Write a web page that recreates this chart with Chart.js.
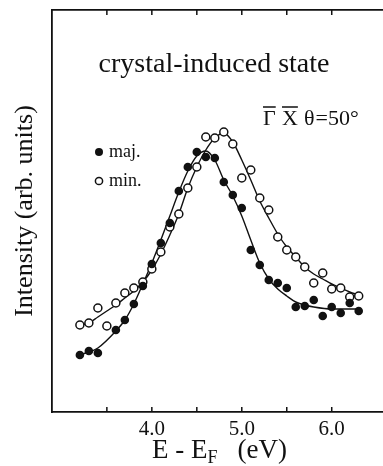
<!DOCTYPE html>
<html>
<head>
<meta charset="utf-8">
<title>crystal-induced state</title>
<script src="https://cdn.jsdelivr.net/npm/chart.js@4.4.1/dist/chart.umd.min.js"></script>
<style>
  html, body { margin: 0; padding: 0; background: #fff; }
  canvas { display: block; }
</style>
</head>
<body>
<canvas id="spectrum" width="383" height="466"></canvas>
<script>
// measured points (E - E_F in eV, intensity in arb. units)
const majEnergy = [3.2, 3.3, 3.4, 3.6, 3.7, 3.8, 3.9, 4.0, 4.1, 4.2, 4.3, 4.4, 4.5, 4.6, 4.7, 4.8,
  4.9, 5.0, 5.1, 5.2, 5.3, 5.4, 5.5, 5.6, 5.7, 5.8, 5.9, 6.0, 6.1, 6.2, 6.3];
const majIntensity = [57, 61, 59, 82, 92, 108, 126, 148, 169, 189, 221, 245, 260, 255, 254, 230,
  217, 204, 162, 147, 132, 129, 124, 105, 106, 112, 96, 105, 99, 109, 101];

const minEnergy = [3.2, 3.3, 3.4, 3.5, 3.6, 3.7, 3.8, 3.9, 4.0, 4.1, 4.2, 4.3, 4.4, 4.5, 4.6, 4.7,
  4.8, 4.9, 5.0, 5.1, 5.2, 5.3, 5.4, 5.5, 5.6, 5.7, 5.8, 5.9, 6.0, 6.1, 6.2, 6.3];
const minIntensity = [87, 89, 104, 86, 109, 119, 124, 130, 143, 160, 185, 198, 224, 245, 275, 274,
  280, 268, 234, 242, 214, 202, 175, 162, 155, 145, 129, 139, 123, 124, 115, 116];

// fitted curves
const majFitEnergy = [3.2, 3.4, 3.6, 3.7, 3.8, 3.9, 4.0, 4.1, 4.2, 4.3, 4.4, 4.5, 4.6, 4.7, 4.8,
  4.9, 5.0, 5.1, 5.2, 5.3, 5.4, 5.5, 5.6, 5.7, 5.8, 6.0, 6.2, 6.3];
const majFitIntensity = [57, 64, 81, 92, 108, 128, 149, 172, 196, 220, 241, 256, 261, 252, 232,
  216, 196, 172, 149, 133, 123, 116, 110, 107, 105, 103, 103, 103];

const minFitEnergy = minEnergy;
const minFitIntensity = [87, 89, 95, 101, 107, 114, 121, 130, 142, 158, 177, 198, 224, 245, 262, 274,
  279, 270, 252, 232, 211, 194, 178, 165, 155, 145, 138, 133, 128, 124, 120, 117];

const tickValues = [3.5, 4.0, 4.5, 5.0, 5.5, 6.0];
const tickLabels = ["", "4.0", "", "5.0", "", "6.0"];

const ink = "#111";
const serif = "'Liberation Serif', 'DejaVu Serif', serif";

function pairs(xs, ys) {
  return xs.map((x, i) => ({ x: x, y: ys[i] }));
}

function setTicks(scale) {
  scale.ticks = tickValues.map((v) => ({ value: v }));
}

function fitX(height) {
  return (scale) => {
    scale.height = height;
    scale.paddingLeft = 0;
    scale.paddingRight = 0;
  };
}

// inward tick marks and the text placed inside the figure
const decorations = {
  id: "decorations",
  afterDraw(chart) {
    const ctx = chart.ctx;
    const area = chart.chartArea;
    const xs = chart.scales.x;
    ctx.save();
    ctx.strokeStyle = ink;
    ctx.lineWidth = 1.5;
    tickValues.forEach((v) => {
      const px = xs.getPixelForValue(v);
      ctx.beginPath();
      ctx.moveTo(px, area.bottom);
      ctx.lineTo(px, area.bottom - 5);
      ctx.moveTo(px, area.top);
      ctx.lineTo(px, area.top + 5);
      ctx.stroke();
    });

    ctx.fillStyle = ink;
    ctx.textBaseline = "alphabetic";
    ctx.textAlign = "center";
    ctx.font = "28px " + serif;
    ctx.fillText("crystal-induced state", 214, 72);

    // Gamma-bar X-bar theta=50
    ctx.textAlign = "left";
    ctx.font = "22px " + serif;
    const gw = ctx.measureText("\u0393").width;
    const xw = ctx.measureText("X").width;
    const tw = ctx.measureText("\u03b8").width;
    ctx.fillText("\u0393", 263, 125);
    ctx.fillText("X", 282, 125);
    ctx.fillText("\u03b8", 304, 125);
    ctx.fillText("=50\u00b0", 305 + tw, 125);
    ctx.lineWidth = 1.6;
    ctx.beginPath();
    ctx.moveTo(263, 107);
    ctx.lineTo(263 + gw, 107);
    ctx.moveTo(282, 107);
    ctx.lineTo(282 + xw, 107);
    ctx.stroke();

    // legend
    ctx.font = "18px " + serif;
    ctx.fillText("maj.", 109, 157);
    ctx.fillText("min.", 109, 186);
    ctx.beginPath();
    ctx.arc(99, 152, 4, 0, Math.PI * 2);
    ctx.fill();
    ctx.beginPath();
    ctx.arc(99, 181, 3.6, 0, Math.PI * 2);
    ctx.lineWidth = 1.5;
    ctx.stroke();

    // x axis title with subscript
    ctx.font = "27px " + serif;
    ctx.fillText("E - E", 152, 458);
    let w = ctx.measureText("E - E").width;
    ctx.font = "18px " + serif;
    ctx.fillText("F", 152 + w, 463);
    w += ctx.measureText("F").width;
    ctx.font = "27px " + serif;
    ctx.fillText("(eV)", 152 + w + 20, 458);
    ctx.restore();
  }
};

new Chart(document.getElementById("spectrum"), {
  type: "scatter",
  data: {
    datasets: [
      {
        label: "maj.",
        data: pairs(majEnergy, majIntensity),
        pointRadius: 4.3,
        pointBackgroundColor: ink,
        pointBorderWidth: 0,
        order: 0,
      },
      {
        label: "min.",
        data: pairs(minEnergy, minIntensity),
        pointRadius: 4,
        pointBackgroundColor: "#fff",
        pointBorderColor: ink,
        pointBorderWidth: 1.5,
        order: 0,
      },
      {
        label: "maj. fit",
        data: pairs(majFitEnergy, majFitIntensity),
        showLine: true,
        cubicInterpolationMode: "monotone",
        pointRadius: 0,
        borderColor: ink,
        borderWidth: 1.4,
        order: 1,
      },
      {
        label: "min. fit",
        data: pairs(minFitEnergy, minFitIntensity),
        showLine: true,
        cubicInterpolationMode: "monotone",
        pointRadius: 0,
        borderColor: ink,
        borderWidth: 1.4,
        order: 1,
      },
    ],
  },
  options: {
    responsive: false,
    animation: false,
    layout: { padding: 0, autoPadding: false },
    plugins: {
      legend: { display: false },
      tooltip: { enabled: false },
    },
    scales: {
      x: {
        type: "linear",
        position: "bottom",
        min: 2.89,
        max: 6.57,
        afterBuildTicks: setTicks,
        afterFit: fitX(54),
        grid: { display: false, drawTicks: false },
        border: { display: true, color: ink, width: 1.8 },
        ticks: {
          padding: 5,
          color: ink,
          font: { family: serif, size: 21 },
          callback: (value, index) => tickLabels[index],
        },
      },
      x2: {
        type: "linear",
        position: "top",
        min: 2.89,
        max: 6.57,
        afterBuildTicks: setTicks,
        afterFit: fitX(10),
        grid: { display: false, drawTicks: false },
        border: { display: true, color: ink, width: 1.8 },
        ticks: { display: false },
      },
      y: {
        type: "linear",
        position: "left",
        min: 0,
        max: 402,
        afterFit: (scale) => { scale.width = 52; },
        grid: { display: false, drawTicks: false },
        border: { display: true, color: ink, width: 1.8 },
        ticks: { display: false },
        title: {
          display: true,
          text: "Intensity (arb. units)",
          color: ink,
          font: { family: serif, size: 26 },
          padding: { top: 10, bottom: 0 },
        },
      },
    },
  },
  plugins: [decorations],
});
</script>
</body>
</html>
